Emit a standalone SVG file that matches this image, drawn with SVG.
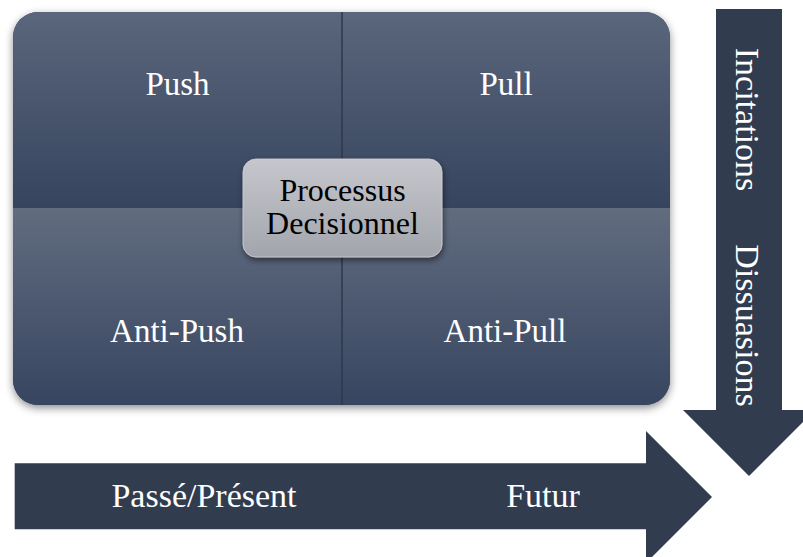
<svg xmlns="http://www.w3.org/2000/svg" width="803" height="557" viewBox="0 0 803 557">
  <defs>
    <style>
      .lbl { font-family: 'Liberation Serif', 'Times New Roman', Times, 'DejaVu Serif', serif; font-size: 33px; fill: #ffffff; text-anchor: middle; }
      .dark { fill: #000000; font-size: 32px; }
      .big { font-size: 34px; }
      .arrow { fill: #313d4f; }
    </style>
    <linearGradient id="gTop" x1="0" y1="0" x2="0" y2="1">
      <stop offset="0" stop-color="#5a667b"/>
      <stop offset="1" stop-color="#36445e"/>
    </linearGradient>
    <linearGradient id="gBot" x1="0" y1="0" x2="0" y2="1">
      <stop offset="0" stop-color="#616c7f"/>
      <stop offset="1" stop-color="#374560"/>
    </linearGradient>
    <linearGradient id="gCenter" x1="0" y1="0" x2="0" y2="1">
      <stop offset="0" stop-color="#c6c7cd"/>
      <stop offset="1" stop-color="#a2a5ac"/>
    </linearGradient>
    <clipPath id="clipMain">
      <rect x="13" y="12" width="657" height="393" rx="25" ry="25"/>
    </clipPath>
    <filter id="shadow" x="-10%" y="-10%" width="120%" height="125%">
      <feDropShadow dx="0" dy="3" stdDeviation="4" flood-color="#000000" flood-opacity="0.45"/>
    </filter>
    <filter id="shadowSmall" x="-15%" y="-15%" width="130%" height="140%">
      <feDropShadow dx="1" dy="3" stdDeviation="3" flood-color="#000000" flood-opacity="0.5"/>
    </filter>
  </defs>

  <rect x="0" y="0" width="803" height="557" fill="#ffffff"/>

  <g id="matrix">
    <rect x="13" y="12" width="657" height="393" rx="25" ry="25" fill="#3a4862" filter="url(#shadow)"/>
    <g clip-path="url(#clipMain)">
      <g id="push">
        <rect x="13" y="12" width="329" height="196" fill="url(#gTop)"/>
        <text class="lbl" font-family="Liberation Serif, serif" x="177.5" y="95">Push</text>
      </g>
      <g id="pull">
        <rect x="342" y="12" width="328" height="196" fill="url(#gTop)"/>
        <text class="lbl" font-family="Liberation Serif, serif" x="506" y="95">Pull</text>
      </g>
      <g id="anti-push">
        <rect x="13" y="208" width="329" height="197" fill="url(#gBot)"/>
        <text class="lbl" font-family="Liberation Serif, serif" x="177" y="342">Anti-Push</text>
      </g>
      <g id="anti-pull">
        <rect x="342" y="208" width="328" height="197" fill="url(#gBot)"/>
        <text class="lbl" font-family="Liberation Serif, serif" x="505" y="342">Anti-Pull</text>
      </g>
      <line x1="342" y1="12" x2="342" y2="405" stroke="#2e394c" stroke-width="1.5"/>
    </g>
  </g>

  <g id="processus">
    <rect x="243" y="159" width="199" height="98" rx="13" ry="13" fill="url(#gCenter)" stroke="#d0d1d6" stroke-width="0.8" filter="url(#shadowSmall)"/>
    <text class="lbl dark" font-family="Liberation Serif, serif" x="342.5" y="201">Processus</text>
    <text class="lbl dark" font-family="Liberation Serif, serif" x="342.5" y="233.5">Decisionnel</text>
  </g>

  <g id="connectors">
    <g id="axe-vertical">
      <path class="arrow" d="M716,9 L782,9 L782,410 L815,410 L749,476 L683,410 L716,410 Z"/>
      <text class="lbl big" font-family="Liberation Serif, serif" transform="translate(736,119.5) rotate(90)">Incitations</text>
      <text class="lbl big" font-family="Liberation Serif, serif" transform="translate(736,325.5) rotate(90)">Dissuasions</text>
    </g>
    <g id="axe-horizontal">
      <path class="arrow" d="M14.7,463.3 L646,463.3 L646,431 L712,497 L646,563 L646,529.3 L14.7,529.3 Z"/>
      <text class="lbl big" font-family="Liberation Serif, serif" x="204" y="506.7">Passé/Présent</text>
      <text class="lbl big" font-family="Liberation Serif, serif" x="543" y="506.7">Futur</text>
    </g>
  </g>
</svg>
